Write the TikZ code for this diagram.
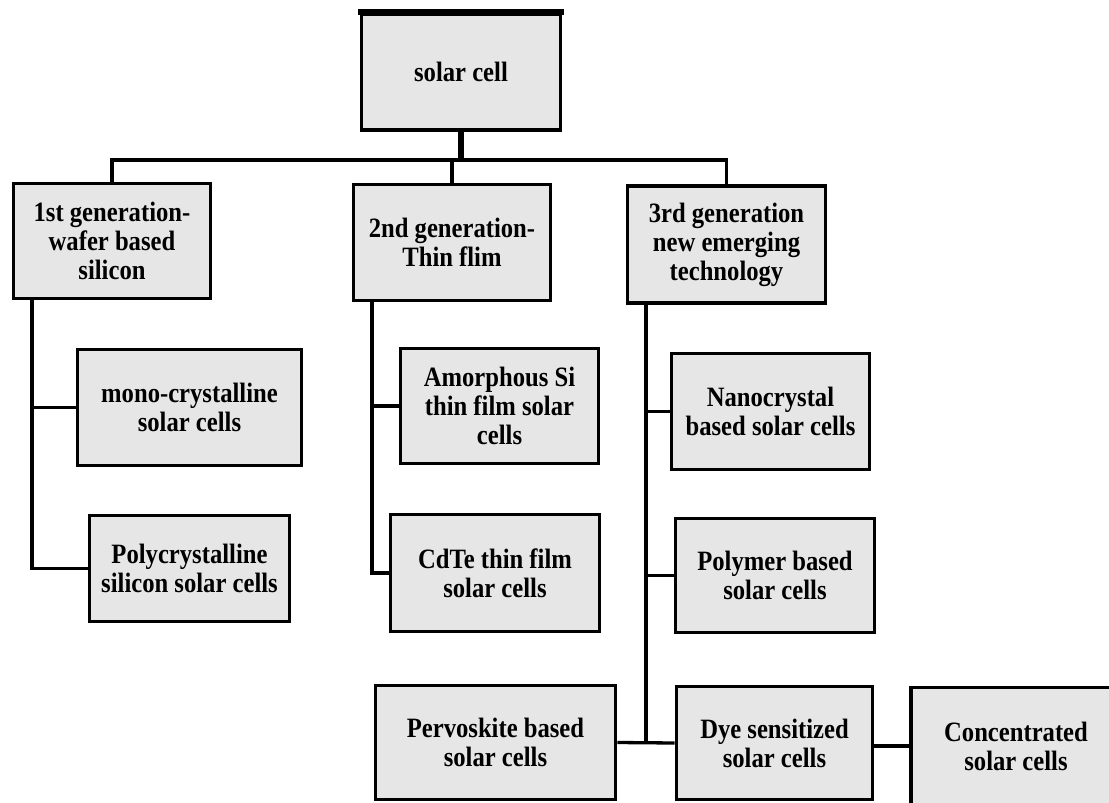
\documentclass[tikz,border=0pt]{standalone}
\usepackage{fontspec}
\setmainfont[FakeStretch=0.88]{Liberation Serif}
\definecolor{boxfill}{RGB}{230,230,230}
\begin{document}
\begin{tikzpicture}[x=1pt,y=-1pt,
  box/.style={draw=black,line width=3.6pt,fill=boxfill,rectangle,inner sep=0pt,
    align=center,font=\bfseries\fontsize{28}{29}\selectfont},
  link/.style={draw=black,line width=3.3pt},
  stem/.style={draw=black,line width=5.5pt}]
\clip (0,0) rectangle (1109,803);
\fill[white] (0,0) rectangle (1109,803);
% nodes
\node[box,minimum width=199pt,minimum height=116pt] (sc) at (461,72) {solar cell};
\node[box,minimum width=197pt,minimum height=115pt] (g1) at (112,241) {1st generation-\\wafer based\\silicon};
\node[box,minimum width=197pt,minimum height=116pt] (g2) at (452,242.5) {2nd generation-\\Thin flim};
\node[box,minimum width=198pt,minimum height=117pt] (g3) at (726.5,244.5) {3rd generation\\new emerging\\technology};
\node[box,minimum width=224pt,minimum height=116pt] (mono) at (189.5,407.5) {mono-crystalline\\solar cells};
\node[box,minimum width=200pt,minimum height=106pt] (poly) at (189.5,568.5) {Polycrystalline\\silicon solar cells};
\node[box,minimum width=198pt,minimum height=115pt] (amor) at (499.5,406) {Amorphous Si\\thin film solar\\cells};
\node[box,minimum width=209pt,minimum height=117pt] (cdte) at (495,573) {CdTe thin film\\solar cells};
\node[box,minimum width=198pt,minimum height=116pt] (nano) at (770.5,411.5) {Nanocrystal\\based solar cells};
\node[box,minimum width=199pt,minimum height=114pt] (polym) at (775,575.5) {Polymer based\\solar cells};
\node[box,minimum width=240pt,minimum height=114pt] (perv) at (495.5,742.5) {Pervoskite based\\solar cells};
\node[box,minimum width=196pt,minimum height=113pt] (dye) at (774.5,743) {Dye sensitized\\solar cells};
\node[box,minimum width=232pt,minimum height=117pt] (conc) at (1027,746) {\hspace*{-22pt}Concentrated\\\hspace*{-22pt}solar cells};
% thick top edge of root box
\draw[line width=5.5pt] ([xshift=-1.8pt]sc.north west) -- ([xshift=1.8pt]sc.north east);
% connector points
\coordinate (bus) at (461,160);
\coordinate (s1) at (32,300);
\coordinate (s2) at (372,302);
\coordinate (s3) at (646,304);
% top level
\draw[stem] (sc.south) -- ([yshift=1pt]bus);
\draw[link] (g1.north) |- (bus) -| (g3.north);
\draw[link] (bus -| g2.north) -- (g2.north);
% first generation
\draw[link] (s1) |- (poly.west);
\draw[link] (s1 |- mono.west) -- (mono.west);
% second generation
\draw[link] (s2) |- (cdte.west);
\draw[link] (s2 |- amor.west) -- (amor.west);
% third generation
\draw[link] (s3) -- (s3 |- perv.east);
\draw[link] (s3 |- nano.west) -- (nano.west);
\draw[link] (s3 |- polym.west) -- (polym.west);
\draw[link] (perv.east) -- (dye.west);
\draw[link] (dye.east |- conc.west) -- (conc.west);
\end{tikzpicture}
\end{document}
